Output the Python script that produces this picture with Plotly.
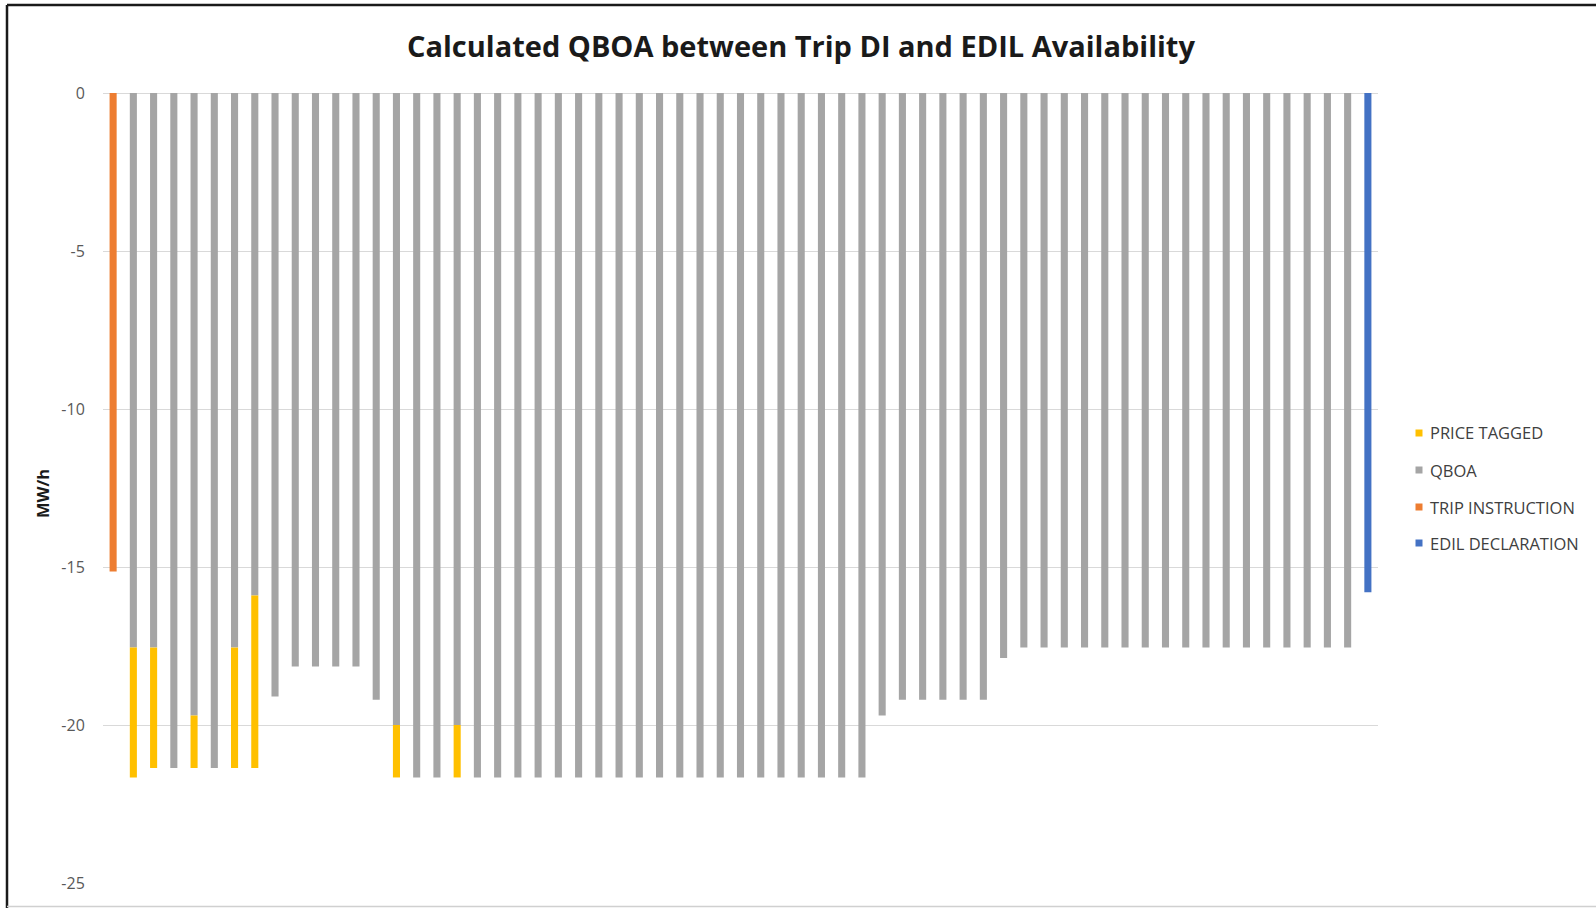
import plotly.graph_objects as go

# Settlement periods between the trip instruction and the EDIL declaration
periods = [str(i) for i in range(1, 64)]

# QBOA volume per period (MW/h)
qboa = [
    None, -17.55, -17.55, -21.36, -19.70, -21.36, -17.55, -15.90,
    -19.10, -18.15, -18.15, -18.15, -18.15, -19.20, -20.00, -21.66,
    -21.66, -20.00, -21.66, -21.66, -21.66, -21.66, -21.66, -21.66,
    -21.66, -21.66, -21.66, -21.66, -21.66, -21.66, -21.66, -21.66,
    -21.66, -21.66, -21.66, -21.66, -21.66, -21.66, -19.70, -19.20,
    -19.20, -19.20, -19.20, -19.20, -17.88, -17.55, -17.55, -17.55,
    -17.55, -17.55, -17.55, -17.55, -17.55, -17.55, -17.55, -17.55,
    -17.55, -17.55, -17.55, -17.55, -17.55, -17.55, None,
]

# Price-tagged volume stacked below QBOA (MW/h)
price_tagged = [
    None, -4.11, -3.81, None, -1.66, None, -3.81, -5.46,
    None, None, None, None, None, None, -1.66, None,
    None, -1.66, None, None, None, None, None, None,
    None, None, None, None, None, None, None, None,
    None, None, None, None, None, None, None, None,
    None, None, None, None, None, None, None, None,
    None, None, None, None, None, None, None, None,
    None, None, None, None, None, None, None,
]

# Trip instruction and EDIL declaration levels (MW/h)
trip_instruction = [-15.14] + [None] * 62
edil_declaration = [None] * 62 + [-15.80]

y_tick_values = [-25, -20, -15, -10, -5, 0]
y_tick_labels = ["-25", "-20", "-15", "-10", "-5", "0"]

series_names = ["PRICE TAGGED", "QBOA", "TRIP INSTRUCTION", "EDIL DECLARATION"]
series_colors = ["#FFC000", "#A5A5A5", "#ED7D31", "#4472C4"]

W, H = 1596, 908
ML, MR, MT, MB = 103, 218, 93, 25
PW, PH = W - ML - MR, H - MT - MB

fig = go.Figure()

fig.add_trace(go.Bar(x=periods, y=qboa, name="QBOA",
                     marker=dict(color="#A5A5A5", line=dict(width=0))))
fig.add_trace(go.Bar(x=periods, y=price_tagged, name="PRICE TAGGED",
                     marker=dict(color="#FFC000", line=dict(width=0))))
fig.add_trace(go.Bar(x=periods, y=trip_instruction, name="TRIP INSTRUCTION",
                     marker=dict(color="#ED7D31", line=dict(width=0))))
fig.add_trace(go.Bar(x=periods, y=edil_declaration, name="EDIL DECLARATION",
                     marker=dict(color="#4472C4", line=dict(width=0))))


def px_x(p):
    return (p - ML) / PW


def px_y(p):
    return (H - MB - p) / PH


# Frame around the chart
shapes = [
    dict(type="line", xref="paper", yref="paper",
         x0=px_x(7), x1=px_x(W), y0=px_y(5), y1=px_y(5),
         line=dict(color="#1a1a1a", width=2.5)),
    dict(type="line", xref="paper", yref="paper",
         x0=px_x(7), x1=px_x(7), y0=px_y(5), y1=px_y(H),
         line=dict(color="#1a1a1a", width=2.5)),
    dict(type="line", xref="paper", yref="paper",
         x0=px_x(7), x1=px_x(W), y0=px_y(906.5), y1=px_y(906.5),
         line=dict(color="#d0d0d0", width=1.5)),
]

# Y-axis title
annotations = [
    dict(text="<b>MW/h</b>", xref="paper", yref="paper",
         x=px_x(42), y=px_y(494), xanchor="center", yanchor="middle",
         textangle=-90, showarrow=False,
         font=dict(size=16.5, color="#1a1a1a", family="Open Sans, sans-serif")),
]

# Legend: small colour keys with labels on the right
legend_rows = [433, 470, 507, 543]
for name, color, row in zip(series_names, series_colors, legend_rows):
    shapes.append(dict(type="rect", xref="paper", yref="paper",
                       x0=px_x(1415.5), x1=px_x(1422.5),
                       y0=px_y(row + 3.5), y1=px_y(row - 3.5),
                       fillcolor=color, line=dict(width=0)))
    annotations.append(dict(text=name, xref="paper", yref="paper",
                            x=px_x(1428), y=px_y(row), xanchor="left",
                            yanchor="middle", showarrow=False,
                            font=dict(size=16.5, color="#404040",
                                      family="Open Sans, sans-serif")))

fig.update_layout(
    width=W, height=H,
    margin=dict(l=ML, r=MR, t=MT, b=MB, autoexpand=False),
    paper_bgcolor="white", plot_bgcolor="white",
    barmode="relative", bargap=0.65, showlegend=False,
    font=dict(family="Open Sans, sans-serif", color="#595959"),
    title=dict(text="<b>Calculated QBOA between Trip DI and EDIL Availability</b>",
               x=801 / W, xanchor="center", y=1 - 47 / H, yanchor="middle",
               font=dict(size=29, color="#1a1a1a", family="Open Sans, sans-serif")),
    xaxis=dict(showticklabels=False, showgrid=False, zeroline=False,
               showline=False, ticks=""),
    yaxis=dict(range=[-25, 0], tickvals=y_tick_values, ticktext=y_tick_labels,
               showgrid=True, gridcolor="#d9d9d9", gridwidth=1,
               zeroline=True, zerolinecolor="#d9d9d9", zerolinewidth=1,
               showline=False, ticks="outside", ticklen=14,
               tickcolor="rgba(0,0,0,0)", tickfont=dict(size=16, color="#595959")),
    shapes=shapes,
    annotations=annotations,
)

fig.write_html("out.html")
